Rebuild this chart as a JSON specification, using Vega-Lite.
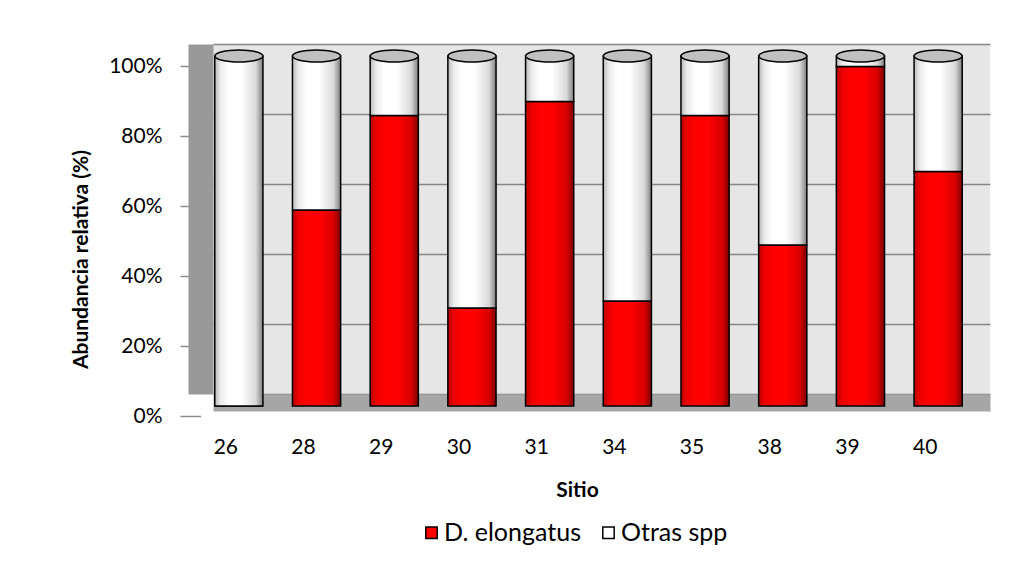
{
  "$schema": "https://vega.github.io/schema/vega-lite/v6.json",
  "width": 777,
  "height": 350,
  "autosize": {"type": "none"},
  "padding": {"left": 213, "top": 44, "right": 44, "bottom": 169},
  "background": "white",
  "config": {
    "view": {"fill": "#e6e6e6", "stroke": null},
    "font": "Lato",
    "axis": {"labelColor": "black", "titleColor": "black", "labelFontSize": 21, "titleFontSize": 21, "titleFontWeight": "bold", "labelFont": "Lato", "titleFont": "Lato"},
    "legend": {"labelColor": "black", "labelFontSize": 25, "labelFont": "Lato"}
  },
  "data": {
    "values": [
      {"Sitio": "26", "serie": "D. elongatus", "valor": 0},
      {"Sitio": "26", "serie": "Otras spp", "valor": 100},
      {"Sitio": "28", "serie": "D. elongatus", "valor": 56},
      {"Sitio": "28", "serie": "Otras spp", "valor": 44},
      {"Sitio": "29", "serie": "D. elongatus", "valor": 83},
      {"Sitio": "29", "serie": "Otras spp", "valor": 17},
      {"Sitio": "30", "serie": "D. elongatus", "valor": 28},
      {"Sitio": "30", "serie": "Otras spp", "valor": 72},
      {"Sitio": "31", "serie": "D. elongatus", "valor": 87},
      {"Sitio": "31", "serie": "Otras spp", "valor": 13},
      {"Sitio": "34", "serie": "D. elongatus", "valor": 30},
      {"Sitio": "34", "serie": "Otras spp", "valor": 70},
      {"Sitio": "35", "serie": "D. elongatus", "valor": 83},
      {"Sitio": "35", "serie": "Otras spp", "valor": 17},
      {"Sitio": "38", "serie": "D. elongatus", "valor": 46},
      {"Sitio": "38", "serie": "Otras spp", "valor": 54},
      {"Sitio": "39", "serie": "D. elongatus", "valor": 97},
      {"Sitio": "39", "serie": "Otras spp", "valor": 3},
      {"Sitio": "40", "serie": "D. elongatus", "valor": 67},
      {"Sitio": "40", "serie": "Otras spp", "valor": 33}
    ]
  },
  "resolve": {"axis": {"y": "independent"}},
  "layer": [
    {
      "mark": {"type": "bar", "stroke": "black", "strokeWidth": 1.5, "xOffset": -13, "yOffset": 12},
      "encoding": {
        "x": {
          "field": "Sitio", "type": "nominal",
          "scale": {"paddingInner": 0.38, "paddingOuter": 0.19},
          "axis": {
            "title": "Sitio", "labelAngle": 0, "ticks": false,
            "domainColor": "#a6a6a6", "domainWidth": 17, "offset": 8.5,
            "labelOffset": -26, "labelPadding": 34,
            "titleX": 364, "titleY": 77, "titleBaseline": "top", "titleAlign": "center"
          }
        },
        "y": {
          "field": "valor", "type": "quantitative", "stack": "zero",
          "scale": {"domain": [0, 100]},
          "axis": {
            "orient": "left",
            "title": "Abundancia relativa (%)",
            "values": [0, 20, 40, 60, 80, 100],
            "labelExpr": "datum.value + '%'",
            "offset": 12.5, "domainColor": "#999999", "domainWidth": 25,
            "tickSize": 20.5, "tickColor": "#8c8c8c", "tickWidth": 1.5, "tickOffset": 22,
            "labelPadding": 18, "grid": false,
            "titleAngle": -90, "titleBaseline": "middle", "titleAlign": "center",
            "titleX": -119.5, "titleY": 215
          }
        },
        "color": {
          "field": "serie", "type": "nominal",
          "scale": {"domain": ["D. elongatus", "Otras spp"], "range": ["#ff0000", "#ffffff"]},
          "legend": {
            "orient": "none", "legendX": 206, "legendY": 476, "direction": "horizontal",
            "title": null, "symbolType": "square", "symbolSize": 130,
            "symbolStrokeColor": "black", "symbolStrokeWidth": 1.5,
            "columnPadding": 15, "labelOffset": 0
          }
        },
        "order": {"field": "serie", "type": "ordinal"}
      }
    },
    {
      "mark": {
        "type": "bar", "xOffset": -13, "yOffset": 12,
        "fill": {
          "gradient": "linear", "x1": 0, "x2": 1, "y1": 0, "y2": 0,
          "stops": [
            {"offset": 0, "color": "rgba(0,0,0,0.28)"},
            {"offset": 0.12, "color": "rgba(0,0,0,0.08)"},
            {"offset": 0.3, "color": "rgba(0,0,0,0)"},
            {"offset": 0.55, "color": "rgba(0,0,0,0)"},
            {"offset": 0.85, "color": "rgba(0,0,0,0.15)"},
            {"offset": 1, "color": "rgba(0,0,0,0.5)"}
          ]
        }
      },
      "encoding": {
        "x": {"field": "Sitio", "type": "nominal"},
        "y": {
          "field": "valor", "type": "quantitative", "stack": "zero",
          "axis": {
            "orient": "left", "title": null, "labels": false, "ticks": false, "domain": false,
            "values": [0, 20, 40, 60, 80, 100],
            "grid": true, "gridColor": "#868686", "gridWidth": 1.5
          }
        },
        "detail": {"field": "serie"},
        "order": {"field": "serie", "type": "ordinal"}
      }
    },
    {
      "transform": [{"aggregate": [{"op": "sum", "field": "valor", "as": "total"}], "groupby": ["Sitio"]}],
      "mark": {
        "type": "point", "shape": "M-1,0A1,0.25,0,1,1,1,0A1,0.25,0,1,1,-1,0Z",
        "size": 2304, "filled": true, "fill": "#c0c0c0", "stroke": "black", "strokeWidth": 1.5,
        "opacity": 1, "xOffset": -13, "yOffset": 12
      },
      "encoding": {
        "x": {"field": "Sitio", "type": "nominal"},
        "y": {"field": "total", "type": "quantitative", "axis": null}
      }
    }
  ]
}
